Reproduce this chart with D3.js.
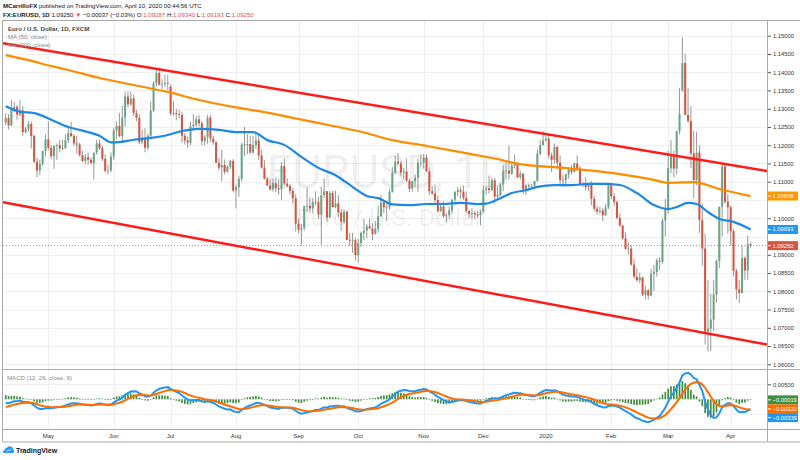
<!DOCTYPE html>
<html>
<head>
<meta charset="utf-8">
<script src="https://cdn.jsdelivr.net/npm/d3@7"></script>
<style>
  body { margin: 0; background: #fff; }
  svg { display: block; font-family: "Liberation Sans", Arial, sans-serif; }
</style>
</head>
<body>
<div id="chart"></div>
<script>
// daily candles, one list per month: [day, open, high, low, close]
const apr2019 = [
  [10,1.1262,1.1288,1.1255,1.1275],[11,1.1275,1.1285,1.1243,1.1254],[12,1.1254,1.1324,1.1253,1.1298],
  [15,1.1298,1.1318,1.1290,1.1305],[16,1.1305,1.1310,1.1270,1.1284],[17,1.1284,1.1323,1.1279,1.1295],
  [18,1.1295,1.1307,1.1226,1.1236],[19,1.1236,1.1250,1.1232,1.1245],[22,1.1245,1.1267,1.1237,1.1258],
  [23,1.1258,1.1265,1.1191,1.1225],[24,1.1225,1.1229,1.1150,1.1155],[25,1.1155,1.1166,1.1112,1.1131],
  [26,1.1131,1.1161,1.1118,1.1149],[29,1.1149,1.1185,1.1143,1.1184],[30,1.1184,1.1230,1.1169,1.1216]
];
const may2019 = [
  [1,1.1216,1.1265,1.1186,1.1193],[2,1.1193,1.1200,1.1162,1.1170],[3,1.1170,1.1200,1.1135,1.1198],
  [6,1.1198,1.1205,1.1160,1.1200],[7,1.1200,1.1214,1.1180,1.1191],[8,1.1191,1.1215,1.1186,1.1192],
  [9,1.1192,1.1230,1.1190,1.1214],[10,1.1214,1.1251,1.1206,1.1233],[13,1.1233,1.1264,1.1223,1.1225],
  [14,1.1225,1.1231,1.1199,1.1205],[15,1.1205,1.1226,1.1177,1.1202],[16,1.1202,1.1207,1.1169,1.1173],
  [17,1.1173,1.1185,1.1154,1.1157],[20,1.1157,1.1176,1.1148,1.1167],[21,1.1167,1.1180,1.1147,1.1160],
  [22,1.1160,1.1167,1.1148,1.1151],[23,1.1151,1.1166,1.1106,1.1180],[24,1.1180,1.1215,1.1174,1.1205],
  [27,1.1205,1.1215,1.1187,1.1192],[28,1.1192,1.1199,1.1156,1.1163],[29,1.1163,1.1175,1.1125,1.1130],
  [30,1.1130,1.1147,1.1120,1.1131],[31,1.1131,1.1180,1.1126,1.1169]
];
const jun2019 = [
  [3,1.1169,1.1248,1.1160,1.1240],[4,1.1240,1.1265,1.1216,1.1253],[5,1.1253,1.1288,1.1222,1.1225],
  [6,1.1225,1.1309,1.1206,1.1276],[7,1.1276,1.1347,1.1251,1.1333],[10,1.1333,1.1348,1.1303,1.1312],
  [11,1.1312,1.1346,1.1308,1.1328],[12,1.1328,1.1338,1.1281,1.1288],[13,1.1288,1.1297,1.1266,1.1275],
  [14,1.1275,1.1285,1.1203,1.1208],[17,1.1208,1.1242,1.1202,1.1220],[18,1.1220,1.1246,1.1181,1.1193],
  [19,1.1193,1.1232,1.1187,1.1226],[20,1.1226,1.1319,1.1216,1.1295],[21,1.1295,1.1375,1.1291,1.1370],
  [24,1.1370,1.1409,1.1361,1.1398],[25,1.1398,1.1412,1.1364,1.1366],[26,1.1366,1.1381,1.1354,1.1368],
  [27,1.1368,1.1392,1.1359,1.1371],[28,1.1371,1.1393,1.1352,1.1370]
];
const jul2019 = [
  [1,1.1360,1.1367,1.1282,1.1287],[2,1.1287,1.1320,1.1280,1.1288],[3,1.1288,1.1300,1.1268,1.1285],
  [4,1.1285,1.1297,1.1273,1.1283],[5,1.1283,1.1292,1.1207,1.1226],[8,1.1226,1.1233,1.1202,1.1213],
  [9,1.1213,1.1223,1.1193,1.1207],[10,1.1207,1.1264,1.1200,1.1252],[11,1.1252,1.1286,1.1239,1.1256],
  [12,1.1256,1.1280,1.1250,1.1271],[15,1.1271,1.1283,1.1251,1.1260],[16,1.1260,1.1266,1.1200,1.1211],
  [17,1.1211,1.1228,1.1200,1.1223],[18,1.1223,1.1283,1.1204,1.1276],[19,1.1276,1.1283,1.1208,1.1218],
  [22,1.1218,1.1226,1.1201,1.1208],[23,1.1208,1.1211,1.1151,1.1152],[24,1.1152,1.1166,1.1130,1.1139],
  [25,1.1139,1.1188,1.1101,1.1146],[26,1.1146,1.1161,1.1120,1.1127],[29,1.1127,1.1145,1.1125,1.1141],
  [30,1.1141,1.1160,1.1135,1.1157],[31,1.1157,1.1162,1.1071,1.1076]
];
const aug2019 = [
  [1,1.1076,1.1092,1.1027,1.1085],[2,1.1085,1.1117,1.1059,1.1108],[5,1.1108,1.1207,1.1100,1.1202],
  [6,1.1202,1.1250,1.1170,1.1200],[7,1.1200,1.1230,1.1175,1.1203],[8,1.1203,1.1226,1.1176,1.1180],
  [9,1.1180,1.1225,1.1177,1.1201],[12,1.1201,1.1231,1.1190,1.1213],[13,1.1213,1.1228,1.1160,1.1172],
  [14,1.1172,1.1188,1.1136,1.1139],[15,1.1139,1.1159,1.1106,1.1108],[16,1.1108,1.1113,1.1088,1.1090],
  [19,1.1090,1.1109,1.1076,1.1079],[20,1.1079,1.1109,1.1073,1.1096],[21,1.1096,1.1112,1.1072,1.1082],
  [22,1.1082,1.1107,1.1064,1.1079],[23,1.1079,1.1154,1.1050,1.1143],[26,1.1143,1.1164,1.1091,1.1095],
  [27,1.1095,1.1110,1.1085,1.1088],[28,1.1088,1.1093,1.1065,1.1075],[29,1.1075,1.1083,1.1040,1.1055],
  [30,1.1055,1.1065,1.0964,1.0985]
];
const sep2019 = [
  [2,1.0985,1.0999,1.0959,1.0969],[3,1.0969,1.0984,1.0926,1.0973],[4,1.0973,1.1035,1.0966,1.1033],
  [5,1.1033,1.1085,1.1016,1.1034],[6,1.1034,1.1058,1.1015,1.1027],[9,1.1027,1.1055,1.1014,1.1045],
  [10,1.1045,1.1074,1.1036,1.1044],[11,1.1044,1.1059,1.0998,1.1010],[12,1.1010,1.1087,1.0927,1.1063],
  [13,1.1063,1.1109,1.1056,1.1074],[16,1.1074,1.1074,1.0990,1.1002],[17,1.1002,1.1075,1.1001,1.1069],
  [18,1.1069,1.1075,1.1030,1.1030],[19,1.1030,1.1075,1.1027,1.1041],[20,1.1041,1.1063,1.1003,1.1016],
  [23,1.1016,1.1025,1.0966,1.0990],[24,1.0990,1.1025,1.0985,1.1018],[25,1.1018,1.1022,1.0940,1.0941],
  [26,1.0941,1.0960,1.0925,1.0940],[27,1.0940,1.0960,1.0905,1.0940],[30,1.0940,1.0946,1.0885,1.0899]
];
const oct2019 = [
  [1,1.0899,1.0944,1.0879,1.0932],[2,1.0932,1.0964,1.0922,1.0960],[3,1.0960,1.0998,1.0940,1.0966],
  [4,1.0966,1.0985,1.0946,1.0978],[7,1.0978,1.0998,1.0970,1.0972],[8,1.0972,1.0986,1.0940,1.0957],
  [9,1.0957,1.0993,1.0955,1.0971],[10,1.0971,1.1034,1.0961,1.1006],[11,1.1006,1.1064,1.1003,1.1043],
  [14,1.1043,1.1047,1.1015,1.1030],[15,1.1030,1.1040,1.0992,1.1030],[16,1.1030,1.1081,1.1023,1.1072],
  [17,1.1072,1.1140,1.1070,1.1125],[18,1.1125,1.1172,1.1121,1.1155],[21,1.1155,1.1179,1.1145,1.1150],
  [22,1.1150,1.1157,1.1115,1.1125],[23,1.1125,1.1138,1.1107,1.1128],[24,1.1128,1.1163,1.1099,1.1103],
  [25,1.1103,1.1109,1.1072,1.1081],[28,1.1081,1.1102,1.1073,1.1101],[29,1.1101,1.1120,1.1085,1.1111],
  [30,1.1111,1.1163,1.1073,1.1152],[31,1.1152,1.1175,1.1139,1.1152]
];
const nov2019 = [
  [1,1.1152,1.1176,1.1135,1.1166],[4,1.1166,1.1176,1.1127,1.1128],[5,1.1128,1.1139,1.1064,1.1074],
  [6,1.1074,1.1089,1.1063,1.1068],[7,1.1068,1.1092,1.1036,1.1050],[8,1.1050,1.1062,1.1016,1.1019],
  [11,1.1019,1.1038,1.1018,1.1032],[12,1.1032,1.1047,1.1001,1.1006],[13,1.1006,1.1015,1.0989,1.1008],
  [14,1.1008,1.1032,1.0997,1.1022],[15,1.1022,1.1052,1.1014,1.1051],[18,1.1051,1.1075,1.1037,1.1072],
  [19,1.1072,1.1086,1.1059,1.1077],[20,1.1077,1.1087,1.1052,1.1073],[21,1.1073,1.1090,1.1050,1.1056],
  [22,1.1056,1.1074,1.1014,1.1020],[25,1.1020,1.1024,1.1001,1.1012],[26,1.1012,1.1028,1.0999,1.1014],
  [27,1.1014,1.1020,1.0997,1.1010],[28,1.1010,1.1020,1.1002,1.1009],[29,1.1009,1.1024,1.0981,1.1017]
];
const dec2019 = [
  [2,1.1017,1.1090,1.1015,1.1078],[3,1.1078,1.1088,1.1064,1.1082],[4,1.1082,1.1117,1.1068,1.1077],
  [5,1.1077,1.1111,1.1075,1.1104],[6,1.1104,1.1110,1.1040,1.1059],[9,1.1059,1.1087,1.1053,1.1064],
  [10,1.1064,1.1096,1.1060,1.1092],[11,1.1092,1.1145,1.1074,1.1130],[12,1.1130,1.1155,1.1106,1.1131],
  [13,1.1131,1.1199,1.1105,1.1122],[16,1.1122,1.1155,1.1118,1.1144],[17,1.1144,1.1175,1.1136,1.1152],
  [18,1.1152,1.1152,1.1110,1.1112],[19,1.1112,1.1130,1.1106,1.1122],[20,1.1122,1.1124,1.1066,1.1080],
  [23,1.1080,1.1093,1.1064,1.1090],[24,1.1090,1.1095,1.1078,1.1089],[25,1.1089,1.1094,1.1086,1.1089],
  [26,1.1089,1.1102,1.1086,1.1102],[27,1.1102,1.1188,1.1100,1.1177],[30,1.1177,1.1214,1.1172,1.1200],
  [31,1.1200,1.1239,1.1200,1.1213]
];
const jan2020 = [
  [1,1.1213,1.1225,1.1210,1.1218],[2,1.1218,1.1229,1.1163,1.1172],[3,1.1172,1.1180,1.1126,1.1160],
  [6,1.1160,1.1205,1.1149,1.1196],[7,1.1196,1.1197,1.1134,1.1152],[8,1.1152,1.1172,1.1092,1.1104],
  [9,1.1104,1.1119,1.1086,1.1105],[10,1.1105,1.1123,1.1086,1.1120],[13,1.1120,1.1140,1.1108,1.1134],
  [14,1.1134,1.1145,1.1120,1.1127],[15,1.1127,1.1152,1.1125,1.1150],[16,1.1150,1.1172,1.1130,1.1136],
  [17,1.1136,1.1143,1.1089,1.1091],[20,1.1091,1.1100,1.1085,1.1094],[21,1.1094,1.1112,1.1077,1.1085],
  [22,1.1085,1.1096,1.1074,1.1093],[23,1.1093,1.1102,1.1036,1.1053],[24,1.1053,1.1062,1.1019,1.1026],
  [27,1.1026,1.1034,1.1010,1.1018],[28,1.1018,1.1032,1.1012,1.1021],[29,1.1021,1.1028,1.0992,1.1008],
  [30,1.1008,1.1039,1.1007,1.1030],[31,1.1030,1.1096,1.1025,1.1090]
];
const feb2020 = [
  [3,1.1090,1.1095,1.1052,1.1060],[4,1.1060,1.1069,1.1035,1.1044],[5,1.1044,1.1048,1.0998,1.1001],
  [6,1.1001,1.1014,1.0977,1.0980],[7,1.0980,1.0982,1.0941,1.0945],[10,1.0945,1.0962,1.0914,1.0916],
  [11,1.0916,1.0933,1.0900,1.0917],[12,1.0917,1.0927,1.0870,1.0873],[13,1.0873,1.0889,1.0835,1.0840],
  [14,1.0840,1.0863,1.0827,1.0830],[17,1.0830,1.0851,1.0823,1.0838],[18,1.0838,1.0840,1.0787,1.0791],
  [19,1.0791,1.0814,1.0778,1.0803],[20,1.0803,1.0807,1.0778,1.0788],[21,1.0788,1.0862,1.0786,1.0848],
  [24,1.0848,1.0872,1.0800,1.0853],[25,1.0853,1.0890,1.0840,1.0884],[26,1.0884,1.0894,1.0858,1.0881],
  [27,1.0881,1.1000,1.0875,1.0994],[28,1.0994,1.1053,1.0950,1.1025]
];
const mar2020 = [
  [2,1.1025,1.1185,1.1012,1.1137],[3,1.1137,1.1214,1.1124,1.1173],[4,1.1173,1.1185,1.1112,1.1136],
  [5,1.1136,1.1240,1.1120,1.1238],[6,1.1238,1.1356,1.1230,1.1285],[9,1.1350,1.1495,1.1346,1.1425],
  [10,1.1425,1.1450,1.1304,1.1283],[11,1.1283,1.1356,1.1263,1.1266],[12,1.1266,1.1307,1.1137,1.1178],
  [13,1.1178,1.1240,1.1055,1.1105],[16,1.1105,1.1237,1.1090,1.1180],[17,1.1180,1.1200,1.0960,1.0995],
  [18,1.0995,1.1040,1.0870,1.0917],[19,1.0917,1.0957,1.0654,1.0690],[20,1.0690,1.0830,1.0636,1.0698],
  [23,1.0698,1.0794,1.0636,1.0722],[24,1.0722,1.0830,1.0690,1.0791],[25,1.0791,1.0887,1.0768,1.0883],
  [26,1.0883,1.1032,1.0864,1.1031],[27,1.1031,1.1147,1.0950,1.1142],[30,1.1142,1.1145,1.1040,1.1045],
  [31,1.1045,1.1066,1.0958,1.1030]
];
const apr2020 = [
  [1,1.1030,1.1035,1.0925,1.0965],[2,1.0965,1.0970,1.0840,1.0856],[3,1.0856,1.0862,1.0777,1.0805],
  [6,1.0805,1.0830,1.0768,1.0795],[7,1.0795,1.0926,1.0795,1.0891],[8,1.0891,1.0896,1.0830,1.0857],
  [9,1.0857,1.0952,1.0832,1.09287],[10,1.09287,1.09340,1.09193,1.09250]
];

// moving averages: [date, value]
const ma50 = [
  ["2019-04-10",1.1307],["2019-04-17",1.1292],["2019-04-24",1.1288],["2019-05-02",1.1270],
  ["2019-05-10",1.1250],["2019-05-17",1.1240],["2019-05-27",1.1226],["2019-05-31",1.1208],
  ["2019-06-04",1.1208],["2019-06-12",1.1215],["2019-06-20",1.1220],["2019-06-28",1.1228],
  ["2019-07-03",1.1235],["2019-07-15",1.1245],["2019-07-24",1.1242],["2019-08-01",1.1236],
  ["2019-08-09",1.1236],["2019-08-16",1.1214],["2019-08-26",1.1201],["2019-09-03",1.1168],
  ["2019-09-11",1.1138],["2019-09-19",1.1118],["2019-09-27",1.1086],["2019-10-04",1.1061],
  ["2019-10-10",1.1055],["2019-10-17",1.1038],["2019-10-25",1.1036],["2019-11-04",1.1039],
  ["2019-11-12",1.1039],["2019-11-20",1.1042],["2019-11-28",1.1039],["2019-12-03",1.1040],
  ["2019-12-10",1.1055],["2019-12-16",1.1069],["2019-12-23",1.1077],["2019-12-27",1.1086],
  ["2020-01-06",1.1091],["2020-01-14",1.1091],["2020-01-22",1.1094],["2020-01-29",1.1094],
  ["2020-02-06",1.1091],["2020-02-14",1.1069],["2020-02-24",1.1036],["2020-03-02",1.1025],
  ["2020-03-05",1.1031],["2020-03-11",1.1042],["2020-03-16",1.1039],["2020-03-20",1.1017],
  ["2020-03-26",1.0998],["2020-04-02",1.0990],["2020-04-10",1.09693]
];
const ma200 = [
  ["2019-04-10",1.1447],["2019-04-22",1.1433],["2019-05-02",1.1417],["2019-05-10",1.1406],
  ["2019-05-27",1.1384],["2019-06-12",1.1365],["2019-06-28",1.1346],["2019-07-15",1.1324],
  ["2019-07-31",1.1305],["2019-08-19",1.1288],["2019-08-29",1.1275],["2019-09-16",1.1256],
  ["2019-10-02",1.1237],["2019-10-17",1.1214],["2019-11-04",1.1198],["2019-11-20",1.1181],
  ["2019-12-05",1.1165],["2019-12-23",1.1146],["2020-01-06",1.1140],["2020-01-21",1.1132],
  ["2020-02-06",1.1121],["2020-02-24",1.1105],["2020-03-02",1.1097],["2020-03-13",1.1099],
  ["2020-03-26",1.1080],["2020-04-10",1.10608]
];

// channel trend lines: two anchors each [date, price]
const upperChannel = [["2019-04-10",1.14782],["2020-04-10",1.11368]];
const lowerChannel = [["2019-04-10",1.10423],["2020-04-10",1.06624]];

const priceTicks = [1.06,1.065,1.07,1.075,1.08,1.085,1.09,1.095,1.10,1.105,1.11,1.115,1.12,1.125,1.13,1.135,1.14,1.145,1.15];
const macdTicks = [0.005];
const monthTicks = [
  ["2019-05-01","May"],["2019-06-03","Jun"],["2019-07-01","Jul"],["2019-08-01","Aug"],
  ["2019-09-02","Sep"],["2019-10-01","Oct"],["2019-11-01","Nov"],["2019-12-02","Dec"],
  ["2020-01-01","2020"],["2020-02-03","Feb"],["2020-03-02","Mar"],["2020-04-01","Apr"]
];

// MACD state at the first visible bar
const macdStart = -0.0012;
const signalStart = -0.0026;

// last-value labels on the right scale
const priceLabels = [
  { value: 1.10608, color: "#ff9800" },
  { value: 1.09693, color: "#2196f3" },
  { value: 1.09250, color: "#d75442" }
];
const macdLabels = [
  { value: -0.00019, color: "#3f8f3f" },
  { value: -0.00320, color: "#ff6d00" },
  { value: -0.00339, color: "#2196f3" }
];

const monthData = [
  ["2019-04", apr2019], ["2019-05", may2019], ["2019-06", jun2019], ["2019-07", jul2019],
  ["2019-08", aug2019], ["2019-09", sep2019], ["2019-10", oct2019], ["2019-11", nov2019],
  ["2019-12", dec2019], ["2020-01", jan2020], ["2020-02", feb2020], ["2020-03", mar2020],
  ["2020-04", apr2020]
];

const W = 800, H = 460;
const pane = { left: 3, right: 767, top: 20, bottom: 369 };
const macdPane = { top: 369, bottom: 429 };
const axisBottom = 441.5;
const upColor = "#6ba583", downColor = "#d75442", wickColor = "#8c8c8c";
const gridColor = "#efefef", borderColor = "#a9a9a9";

const bars = monthData.flatMap(([ym, rows]) =>
  rows.map((r) => ({
    date: `${ym}-${String(r[0]).padStart(2, "0")}`,
    o: r[1], h: r[2], l: r[3], c: r[4]
  }))
);

const svg = d3.select("#chart").append("svg")
  .attr("width", W).attr("height", H)
  .attr("viewBox", `0 0 ${W} ${H}`);

const x = d3.scalePoint()
  .domain(bars.map((d) => d.date))
  .range([pane.left + 2.7, pane.right - 16.4]);
const step = x.step();

const y = d3.scaleLinear()
  .domain([1.05871, 1.15430])
  .range([pane.bottom, pane.top]);

const ym = d3.scaleLinear()
  .domain([-0.0099, 0.0101])
  .range([macdPane.bottom, macdPane.top]);

// clip paths
const defs = svg.append("defs");
defs.append("clipPath").attr("id", "clipMain").append("rect")
  .attr("x", pane.left).attr("y", pane.top)
  .attr("width", pane.right - pane.left).attr("height", pane.bottom - pane.top);
defs.append("clipPath").attr("id", "clipMacd").append("rect")
  .attr("x", pane.left).attr("y", macdPane.top)
  .attr("width", pane.right - pane.left).attr("height", macdPane.bottom - macdPane.top);

// ---- grid ----
const grid = svg.append("g");
grid.selectAll(".hg").data(priceTicks).join("line")
  .attr("x1", pane.left).attr("x2", pane.right)
  .attr("y1", (d) => Math.round(y(d)) + 0.5).attr("y2", (d) => Math.round(y(d)) + 0.5)
  .attr("stroke", gridColor);
grid.selectAll(".mg").data([0.005, -0.005]).join("line")
  .attr("x1", pane.left).attr("x2", pane.right)
  .attr("y1", (d) => Math.round(ym(d)) + 0.5).attr("y2", (d) => Math.round(ym(d)) + 0.5)
  .attr("stroke", gridColor);
grid.selectAll(".vg").data(monthTicks).join("line")
  .attr("x1", (d) => Math.round(x(d[0])) + 0.5).attr("x2", (d) => Math.round(x(d[0])) + 0.5)
  .attr("y1", pane.top).attr("y2", macdPane.bottom)
  .attr("stroke", gridColor);

// ---- watermark ----
const wmX = (pane.left + pane.right) / 2 + 3;
svg.append("text")
  .attr("x", wmX).attr("y", 188)
  .attr("text-anchor", "middle")
  .attr("font-family", "Roboto, sans-serif")
  .attr("font-size", 46)
  .attr("textLength", 243).attr("lengthAdjust", "spacingAndGlyphs")
  .attr("fill", "#000").attr("fill-opacity", 0.075)
  .text("EURUSD, 1D");
svg.append("text")
  .attr("x", wmX + 2).attr("y", 226)
  .attr("text-anchor", "middle")
  .attr("font-family", "Roboto, sans-serif")
  .attr("font-size", 24)
  .attr("textLength", 186).attr("lengthAdjust", "spacingAndGlyphs")
  .attr("fill", "#000").attr("fill-opacity", 0.075)
  .text("Euro / U.S. Dollar");

// ---- last price dotted line ----
const last = bars[bars.length - 1];
svg.append("line")
  .attr("x1", pane.left).attr("x2", pane.right)
  .attr("y1", y(last.c)).attr("y2", y(last.c))
  .attr("stroke", "#e57373").attr("stroke-width", 1)
  .attr("stroke-dasharray", "1,2");

// ---- candles ----
const candles = svg.append("g").attr("clip-path", "url(#clipMain)");
candles.selectAll(".wick").data(bars).join("line")
  .attr("x1", (d) => x(d.date)).attr("x2", (d) => x(d.date))
  .attr("y1", (d) => y(d.h)).attr("y2", (d) => y(d.l))
  .attr("stroke", wickColor).attr("stroke-width", 0.9);
candles.selectAll(".body").data(bars).join("rect")
  .attr("x", (d) => x(d.date) - step * 0.36)
  .attr("width", step * 0.72)
  .attr("y", (d) => y(Math.max(d.o, d.c)))
  .attr("height", (d) => Math.max(0.8, Math.abs(y(d.o) - y(d.c))))
  .attr("fill", (d) => (d.c >= d.o ? upColor : downColor));

// ---- moving averages ----
const maLine = d3.line()
  .x((d) => x(d[0]))
  .y((d) => y(d[1]))
  .curve(d3.curveMonotoneX);
const overlays = svg.append("g").attr("clip-path", "url(#clipMain)");
overlays.append("path").datum(ma200)
  .attr("d", maLine).attr("fill", "none")
  .attr("stroke", "#ff8c00").attr("stroke-width", 2.2);
overlays.append("path").datum(ma50)
  .attr("d", maLine).attr("fill", "none")
  .attr("stroke", "#1e88e5").attr("stroke-width", 2.2);

// ---- channel lines ----
function extendLine(anchors) {
  const [a, b] = anchors;
  const x1 = x(a[0]), y1 = y(a[1]), x2 = x(b[0]), y2 = y(b[1]);
  const k = (y2 - y1) / (x2 - x1);
  return [[pane.left, y1 + k * (pane.left - x1)], [pane.right, y1 + k * (pane.right - x1)]];
}
[upperChannel, lowerChannel].forEach((anchors) => {
  const pts = extendLine(anchors);
  overlays.append("line")
    .attr("x1", pts[0][0]).attr("y1", pts[0][1])
    .attr("x2", pts[1][0]).attr("y2", pts[1][1])
    .attr("stroke", "#ff1a1a").attr("stroke-width", 2.4);
});

// ---- MACD (12, 26, close, 9) ----
const k12 = 2 / 13, k26 = 2 / 27, k9 = 2 / 10;
let e12 = bars[0].c, e26 = bars[0].c - macdStart, sig = signalStart;
const macd = bars.map((d, i) => {
  if (i > 0) {
    e12 += k12 * (d.c - e12);
    e26 += k26 * (d.c - e26);
  }
  const m = e12 - e26;
  if (i > 0) sig += k9 * (m - sig);
  return { date: d.date, macd: m, signal: sig, hist: m - sig };
});

const macdG = svg.append("g").attr("clip-path", "url(#clipMacd)");
macdG.selectAll(".hist").data(macd).join("rect")
  .attr("x", (d) => x(d.date) - step * 0.3)
  .attr("width", step * 0.6)
  .attr("y", (d) => Math.min(ym(0), ym(d.hist)))
  .attr("height", (d) => Math.max(0.6, Math.abs(ym(d.hist) - ym(0))))
  .attr("fill", "#3f8f3f");
macdG.append("path").datum(macd)
  .attr("d", d3.line().x((d) => x(d.date)).y((d) => ym(d.macd)))
  .attr("fill", "none").attr("stroke", "#2196f3").attr("stroke-width", 2);
macdG.append("path").datum(macd)
  .attr("d", d3.line().x((d) => x(d.date)).y((d) => ym(d.signal)))
  .attr("fill", "none").attr("stroke", "#ff6d00").attr("stroke-width", 2);

// ---- frame ----
const frame = svg.append("g").attr("stroke", borderColor).attr("stroke-width", 1);
frame.append("line").attr("x1", pane.left - 0.5).attr("x2", pane.left - 0.5).attr("y1", pane.top).attr("y2", axisBottom);
frame.append("line").attr("x1", pane.right + 0.5).attr("x2", pane.right + 0.5).attr("y1", pane.top).attr("y2", axisBottom);
[pane.top, pane.bottom, macdPane.bottom, axisBottom].forEach((yy) => {
  frame.append("line").attr("x1", pane.left - 0.5).attr("x2", W).attr("y1", yy + 0.5).attr("y2", yy + 0.5);
});

// ---- right price scale (ticks hidden behind value labels are dropped) ----
const fmt = d3.format(".5f");
const labelGap = 8;
const freeTicks = priceTicks.filter((t) =>
  priceLabels.every((l) => Math.abs(y(t) - y(l.value)) > labelGap));
const priceAxis = svg.append("g")
  .attr("transform", `translate(${pane.right + 1},0)`)
  .call(d3.axisRight(y).tickValues(freeTicks).tickFormat(fmt).tickSize(3).tickPadding(2));
const macdAxis = svg.append("g")
  .attr("transform", `translate(${pane.right + 1},0)`)
  .call(d3.axisRight(ym).tickValues(macdTicks).tickFormat(fmt).tickSize(3).tickPadding(2));
[priceAxis, macdAxis].forEach((g) => {
  g.select(".domain").remove();
  g.selectAll(".tick line").attr("stroke", "#555");
  g.selectAll(".tick text").attr("fill", "#333").attr("font-size", 5.8)
    .attr("font-family", "Liberation Sans, Arial, sans-serif");
});

function drawLabels(list, scale, minGap) {
  const placed = list.map((d) => ({ ...d, pos: scale(d.value) }))
    .sort((a, b) => a.pos - b.pos);
  for (let i = 1; i < placed.length; i++) {
    if (placed[i].pos - placed[i - 1].pos < minGap) placed[i].pos = placed[i - 1].pos + minGap;
  }
  const g = svg.append("g");
  placed.forEach((d) => {
    g.append("rect")
      .attr("x", pane.right + 1).attr("y", d.pos - 4.5)
      .attr("width", 30).attr("height", 9)
      .attr("fill", d.color);
    g.append("line")
      .attr("x1", pane.right + 1).attr("x2", pane.right + 4)
      .attr("y1", d.pos).attr("y2", d.pos)
      .attr("stroke", "#fff");
    g.append("text")
      .attr("x", pane.right + 5.5).attr("y", d.pos).attr("dy", "0.35em")
      .attr("font-size", 5.8).attr("fill", "#fff")
      .text(fmt(d.value).replace("-", "\u2212"));
  });
}
drawLabels(priceLabels, y, 9);
drawLabels(macdLabels, ym, 8.7);

// ---- time axis ----
svg.append("g").selectAll("text").data(monthTicks).join("text")
  .attr("x", (d) => x(d[0])).attr("y", 438)
  .attr("text-anchor", "middle")
  .attr("font-size", 6).attr("fill", "#333")
  .text((d) => d[1]);

// ---- texts ----
const txt = svg.append("g").attr("fill", "#131722");
const h1 = txt.append("text").attr("x", 3).attr("y", 8).attr("font-size", 6.1);
h1.append("tspan").attr("font-weight", "bold").text("MCarrilloFX");
h1.append("tspan").text(" published on TradingView.com, April 10, 2020 00:44:56 UTC");

const red = "#e04f4f";
const h2 = txt.append("text").attr("x", 3).attr("y", 17).attr("font-size", 6.1);
h2.append("tspan").attr("font-weight", "bold").text("FX:EURUSD, 1D");
h2.append("tspan").text("  1.09250 ");
h2.append("tspan").attr("fill", red).text("\u25BC");
h2.append("tspan").text(" \u22120.00037 (\u22120.03%) O:");
h2.append("tspan").attr("fill", red).text("1.09287");
h2.append("tspan").text(" H:");
h2.append("tspan").attr("fill", red).text("1.09340");
h2.append("tspan").text(" L:");
h2.append("tspan").attr("fill", red).text("1.09193");
h2.append("tspan").text(" C:");
h2.append("tspan").attr("fill", red).text("1.09250");

txt.append("text").attr("x", 8).attr("y", 30.5).attr("font-size", 6.1)
  .attr("font-weight", "bold").attr("fill", "#444")
  .text("Euro / U.S. Dollar, 1D, FXCM");
txt.append("text").attr("x", 8).attr("y", 38.5).attr("font-size", 6.1)
  .attr("fill", "#888").text("MA (50, close)");
txt.append("text").attr("x", 8).attr("y", 46.5).attr("font-size", 6.1)
  .attr("fill", "#888").text("MA (200, close)");
txt.append("text").attr("x", 7).attr("y", 379.5).attr("font-size", 6.1)
  .attr("fill", "#888").text("MACD (12, 26, close, 9)");

// TradingView mark
const logo = svg.append("g").attr("transform", "translate(3,445)");
logo.append("path")
  .attr("d", "M1,8 Q0,8 0,6.5 Q0,5 1.8,5 Q2,2.6 4.4,2.6 Q5.8,0.6 7.8,1.8 Q10.4,2 10.2,4.6 Q11.5,5.2 11,6.8 Q10.6,8 9.4,8 Z")
  .attr("fill", "#2196f3");
logo.append("path")
  .attr("d", "M3.2,6.8 L5,4.8 L6.4,6 L8.6,3.6")
  .attr("fill", "none").attr("stroke", "#fff").attr("stroke-width", 0.8);
svg.append("text").attr("x", 16).attr("y", 453).attr("font-size", 7)
  .attr("fill", "#131722").attr("font-weight", "bold")
  .text("TradingView");
</script>
</body>
</html>
